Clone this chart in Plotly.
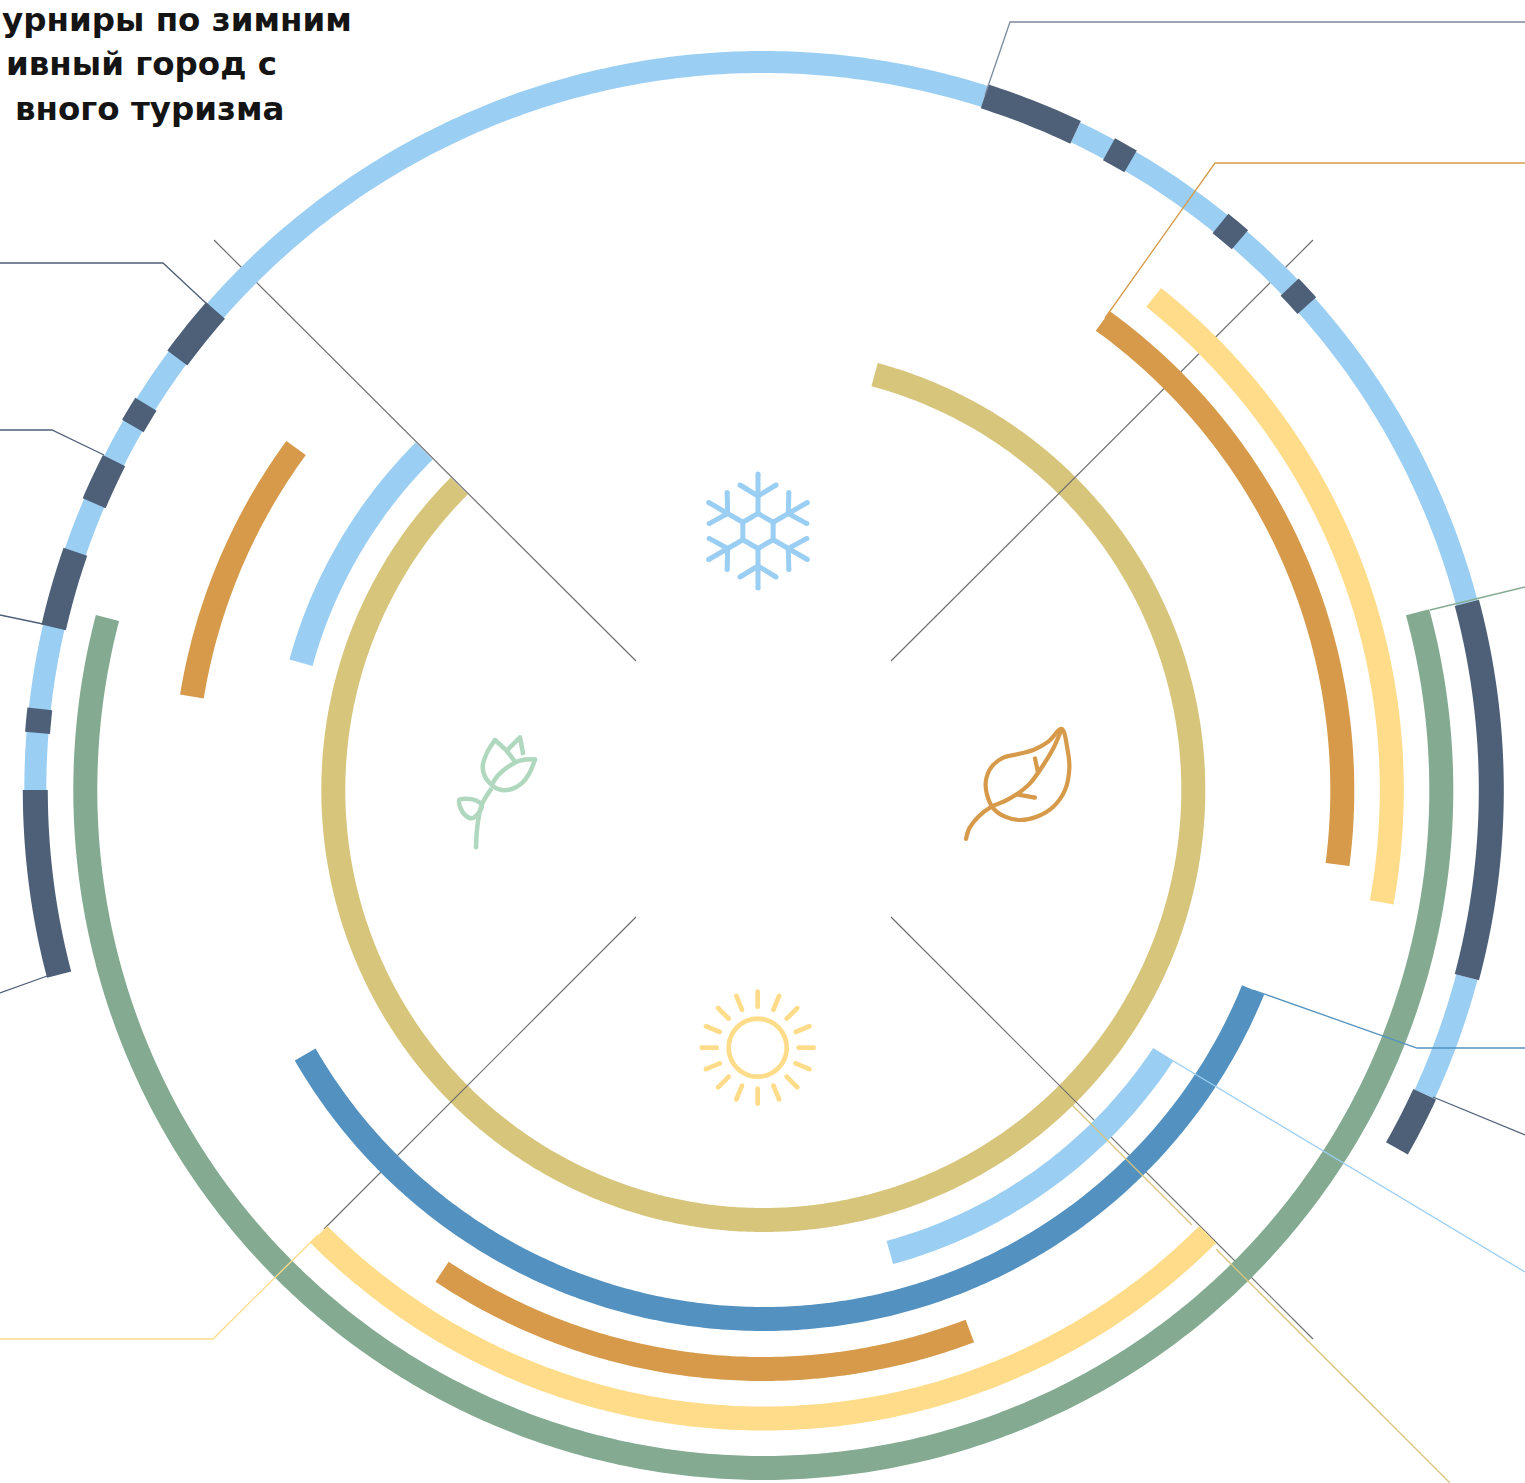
import math
import plotly.graph_objects as go

# --- chart data: (start angle, end angle) in degrees clockwise from 12 o'clock ---
ring_outer_light = [(270.0, 377.7), (25.4, 75.1), (104.9, 114.7)]
ring_outer_dark = [(17.7, 25.4), (28.35, 30.3), (38.9, 40.9), (46.3, 48.3), (75.1, 104.9),
                   (114.7, 119.5), (255.3, 270.0), (274.5, 276.4), (282.9, 289.1),
                   (293.2, 296.9), (300.0, 302.0), (306.4, 311.2)]
ring_green = [(74.8, 284.7)]
ring_yellow = [(38.4, 100.3), (135.0, 225.0)]
ring_orange = [(35.9, 97.4), (159.1, 213.7), (279.3, 306.2)]
ring_blue = [(112.2, 240.0)]
ring_sky = [(123.5, 164.7), (285.4, 315.0)]
ring_khaki = [(15.0, 315.0)]

radius_outer = 728
radius_green = 678
radius_yellow = 628.5
radius_orange = 579
radius_blue = 529
radius_sky = 479.5
radius_khaki = 430

title_lines = ["урниры по зимним", "ивный город с", "вного туризма"]

# --- styles ---
C_LIGHT = "#9ACEF3"
C_DARK = "#4E5F78"
C_GREEN = "#84AB92"
C_YELLOW = "#FEDC8A"
C_ORANGE = "#D69A4A"
C_BLUE = "#5291C0"
C_KHAKI = "#D7C57C"
C_FLOWER = "#B0D8BF"
CX, CY = 763.3, 790
BAND = 24

fig = go.Figure()


def polar(r, a):
    t = math.radians(a)
    return CX + r * math.sin(t), CY - r * math.cos(t)


def add_line(xs, ys, color, width=1.0, shape="linear"):
    line = dict(color=color, width=width, shape=shape, simplify=False)
    if shape == "spline":
        line["smoothing"] = 1.0
    fig.add_trace(go.Scatter(x=xs, y=ys, mode="lines", hoverinfo="skip", line=line))


def add_ring(spans, r, color, band=BAND):
    for a0, a1 in spans:
        n = max(2, int((a1 - a0) * 2))
        pts = [polar(r, a0 + (a1 - a0) * i / n) for i in range(n + 1)]
        add_line([p[0] for p in pts], [p[1] for p in pts], color, band)


def add_path(pts, color, width=1.0, shape="linear"):
    add_line([p[0] for p in pts], [p[1] for p in pts], color, width, shape)


def add_caps(pts, color, width):
    fig.add_trace(go.Scatter(x=[p[0] for p in pts], y=[p[1] for p in pts], mode="markers",
                             hoverinfo="skip", marker=dict(color=color, size=width, line=dict(width=0))))


def zoomed(ox, oy, pts):
    return [(ox + px / 3, oy + py / 3) for px, py in pts]


# khaki ring sits below the divider lines
add_ring(ring_khaki, radius_khaki, C_KHAKI)

# season dividers
for seg in ([(636, 661), (214, 240)], [(891, 661), (1313, 240)],
            [(636, 917), (324, 1229)], [(891, 917), (1313, 1339)]):
    add_path(seg, "#707070", 1.2)

# rings
add_ring(ring_outer_light, radius_outer, C_LIGHT, 22)
add_ring(ring_outer_dark, radius_outer, C_DARK, 25)
add_ring(ring_green, radius_green, C_GREEN)
add_ring(ring_yellow, radius_yellow, C_YELLOW)
add_ring(ring_orange, radius_orange, C_ORANGE)
add_ring(ring_blue, radius_blue, C_BLUE)
add_ring(ring_sky, radius_sky, C_LIGHT)

# leader lines
leaders = [
    ([(985, 95), (1010, 22), (1525, 22)], "#7C8A9E"),
    ([(1105, 318), (1215, 163), (1525, 163)], C_ORANGE),
    ([(1430, 610), (1525, 587)], C_GREEN),
    ([(1253, 990), (1417, 1048), (1525, 1048)], C_BLUE),
    ([(1433, 1097), (1525, 1135)], C_DARK),
    ([(1155, 1050), (1525, 1272)], C_LIGHT),
    ([(1072, 1105), (1192, 1225)], C_KHAKI),
    ([(1216, 1249), (1450, 1483)], C_KHAKI),
    ([(318, 1235), (213, 1339), (0, 1339)], C_YELLOW),
    ([(208, 305), (163, 263), (0, 263)], C_DARK),
    ([(104, 455), (52, 430), (0, 430)], C_DARK),
    ([(43, 624), (0, 615)], C_DARK),
    ([(50, 975), (0, 993)], C_DARK),
]
for pts, col in leaders:
    add_path(pts, col, 1.3)

# snowflake icon
SX, SY = 758, 531
W = 5
hexagon = [(SX + 17.5 * math.sin(math.radians(a)), SY - 17.5 * math.cos(math.radians(a))) for a in range(0, 361, 60)]
add_path(hexagon, C_LIGHT, W)
for a in range(0, 360, 60):
    t = math.radians(a)
    ux, uy = math.sin(t), -math.cos(t)
    vx, vy = -uy, ux
    p0 = (SX + 17.5 * ux, SY + 17.5 * uy)
    p1 = (SX + 57 * ux, SY + 57 * uy)
    add_path([p0, p1], C_LIGHT, W)
    base = (SX + 35 * ux, SY + 35 * uy)
    ends = [p1]
    for s in (-1, 1):
        tip = (base[0] + 11 * ux + s * 18 * vx, base[1] + 11 * uy + s * 18 * vy)
        add_path([base, tip], C_LIGHT, W)
        ends.append(tip)
    add_caps(ends, C_LIGHT, W)

# leaf icon
LEAF = (950, 715)
LW = 4.2
add_path(zoomed(*LEAF, [(335, 42), (352, 100), (358, 160), (345, 225), (310, 275), (260, 305), (210, 315), (165, 305),
                        (130, 280), (110, 235), (108, 195), (125, 155), (160, 128), (205, 117), (250, 105),
                        (295, 80), (335, 42)]), C_ORANGE, LW, "spline")
add_path(zoomed(*LEAF, [(48, 372), (58, 340), (85, 305), (125, 275), (165, 258), (200, 238), (240, 205), (280, 150),
                        (310, 100), (335, 42)]), C_ORANGE, LW, "spline")
add_path(zoomed(*LEAF, [(265, 178), (255, 130)]), C_ORANGE, LW)
add_path(zoomed(*LEAF, [(200, 238), (255, 248)]), C_ORANGE, LW)
add_caps(zoomed(*LEAF, [(48, 372), (255, 130), (255, 248), (335, 42)]), C_ORANGE, LW)

# flower icon
FL = (440, 720)
FW = 4.5
add_path(zoomed(*FL, [(108, 382), (112, 320), (125, 255), (155, 205)]), C_FLOWER, FW, "spline")
add_path(zoomed(*FL, [(165, 60), (140, 100), (128, 140), (135, 170), (155, 195)]), C_FLOWER, FW, "spline")
add_path(zoomed(*FL, [(165, 60), (200, 92), (240, 52), (250, 105)]), C_FLOWER, FW)
add_path(zoomed(*FL, [(200, 92), (225, 125)]), C_FLOWER, FW)
add_path(zoomed(*FL, [(155, 195), (175, 165), (205, 140), (240, 122), (285, 118)]), C_FLOWER, FW, "spline")
add_path(zoomed(*FL, [(285, 118), (268, 160), (245, 190), (215, 207), (185, 210), (160, 200), (155, 195)]),
         C_FLOWER, FW, "spline")
add_path(zoomed(*FL, [(125, 255), (105, 240), (80, 236), (58, 240), (62, 265), (75, 285), (95, 295), (115, 280),
                      (125, 255)]), C_FLOWER, FW, "spline")
add_caps(zoomed(*FL, [(108, 382), (165, 60), (240, 52), (285, 118), (58, 240)]), C_FLOWER, FW)

# sun icon
SUNX, SUNY = 757.7, 1047.7
SW = 4.7
circle = [(SUNX + 29 * math.cos(math.radians(a)), SUNY + 29 * math.sin(math.radians(a))) for a in range(0, 361, 5)]
add_path(circle, C_YELLOW, SW)
for i in range(16):
    t = math.radians(i * 22.5)
    ends = [(SUNX + rr * math.sin(t), SUNY - rr * math.cos(t)) for rr in (41, 56)]
    add_path(ends, C_YELLOW, SW)
    add_caps(ends, C_YELLOW, SW)

annos = []
for text, right, yc in zip(title_lines, (354, 279, 286), (20, 64, 109)):
    annos.append(dict(x=right, y=yc, text=text, xref="x", yref="y", showarrow=False, xanchor="right", yanchor="middle",
                      font=dict(family="DejaVu Sans", size=32.5, color="#141414", weight=700)))

fig.update_layout(
    width=1525, height=1483, autosize=False,
    margin=dict(l=0, r=0, t=0, b=0),
    paper_bgcolor="#FFFFFF", plot_bgcolor="#FFFFFF",
    showlegend=False, annotations=annos,
    xaxis=dict(range=[0, 1525], visible=False, fixedrange=True),
    yaxis=dict(range=[1483, 0], visible=False, fixedrange=True),
)
fig.write_html("out.html", config={"displayModeBar": False},
               post_script="document.body.style.margin='0';document.documentElement.style.overflow='hidden';")
